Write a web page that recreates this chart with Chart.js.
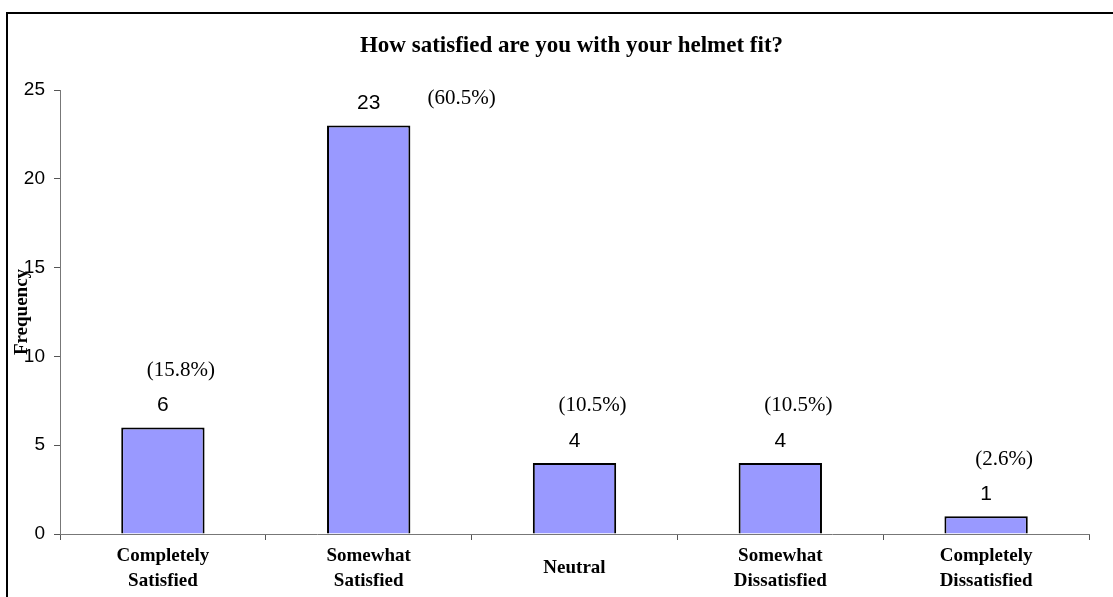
<!DOCTYPE html>
<html>
<head>
<meta charset="utf-8">
<script src="https://cdn.jsdelivr.net/npm/chart.js@4/dist/chart.umd.min.js"></script>
<style>
  html, body { margin: 0; padding: 0; background: #ffffff; }
  #wrap { width: 1113px; height: 597px; position: relative; }
</style>
</head>
<body>
<div id="wrap"><canvas id="c" width="1113" height="597"></canvas></div>
<script>
// ---- data ----
const chartTitle = "How satisfied are you with your helmet fit?";
const yAxisTitle = "Frequency";
const categories = [
  ["Completely", "Satisfied"],
  ["Somewhat", "Satisfied"],
  "Neutral",
  ["Somewhat", "Dissatisfied"],
  ["Completely", "Dissatisfied"]
];
const frequencies = [6, 23, 4, 4, 1];
const percentLabels = ["(15.8%)", "(60.5%)", "(10.5%)", "(10.5%)", "(2.6%)"];
const yMin = 0;
const yMax = 25;
const yStep = 5;

const SERIF = "'Liberation Serif', 'Times New Roman', serif";
const SANS = "'Liberation Sans', Arial, sans-serif";

const frameAndTitle = {
  id: 'frameAndTitle',
  beforeDraw(chart) {
    const ctx = chart.ctx;
    ctx.save();
    ctx.fillStyle = '#ffffff';
    ctx.fillRect(0, 0, chart.width, chart.height);
    ctx.strokeStyle = '#000000';
    ctx.lineWidth = 2;
    ctx.beginPath();
    ctx.moveTo(7, chart.height + 5);
    ctx.lineTo(7, 13);
    ctx.lineTo(chart.width + 5, 13);
    ctx.stroke();
    ctx.restore();
  },
  afterDraw(chart) {
    const ctx = chart.ctx;
    const a = chart.chartArea;
    ctx.save();
    ctx.font = "bold 23px " + SERIF;
    ctx.fillStyle = '#000';
    ctx.textAlign = 'center';
    ctx.textBaseline = 'middle';
    ctx.fillText(chartTitle, (a.left + a.right) / 2 - 3, 46);
    ctx.restore();
  }
};

const barLabels = {
  id: 'barLabels',
  afterDatasetsDraw(chart) {
    const ctx = chart.ctx;
    const meta = chart.getDatasetMeta(0);
    const top = chart.chartArea.top;
    ctx.save();
    ctx.fillStyle = '#000';
    ctx.textAlign = 'center';
    ctx.textBaseline = 'middle';
    meta.data.forEach((bar, i) => {
      ctx.font = "21px " + SANS;
      ctx.fillText(String(frequencies[i]), bar.x, bar.y - 22);
      let px = bar.x + 18;
      let py = bar.y - 57;
      if (py - 12 < top) {
        px = bar.x + 93;
        py = bar.y - 27;
      }
      ctx.font = "21px " + SERIF;
      ctx.fillText(percentLabels[i], px, py);
    });
    ctx.restore();
  }
};

new Chart(document.getElementById('c'), {
  type: 'bar',
  data: {
    labels: categories,
    datasets: [{
      data: frequencies,
      backgroundColor: '#9999FF',
      borderColor: '#000000',
      borderWidth: 2,
      borderSkipped: 'bottom',
      barPercentage: 0.405,
      categoryPercentage: 1.0
    }]
  },
  options: {
    responsive: false,
    animation: false,
    devicePixelRatio: 1,
    layout: { padding: { left: 0, right: 24, top: 90, bottom: 0 } },
    plugins: {
      legend: { display: false },
      title: { display: false },
      tooltip: { enabled: false }
    },
    scales: {
      x: {
        offset: true,
        grid: {
          offset: true,
          drawOnChartArea: false,
          drawTicks: true,
          tickLength: 6,
          tickColor: '#555555'
        },
        border: { display: true, color: '#777777', width: 1 },
        ticks: {
          color: '#000',
          font: { family: SERIF, size: 19, weight: 'bold', lineHeight: 1.32 },
          padding: 16,
          maxRotation: 0,
          minRotation: 0,
          autoSkip: false,
          crossAlign: 'center'
        },
        afterFit(scale) { scale.height = 63; }
      },
      y: {
        min: yMin,
        max: yMax,
        grid: {
          drawOnChartArea: false,
          drawTicks: true,
          tickLength: 6,
          tickColor: '#555555'
        },
        border: { display: true, color: '#777777', width: 1 },
        ticks: {
          stepSize: yStep,
          color: '#000',
          font: { family: SANS, size: 19 },
          padding: 9
        },
        title: {
          display: true,
          text: yAxisTitle,
          color: '#000',
          font: { family: SERIF, size: 19, weight: 'bold' },
          padding: { top: 11, bottom: 0 }
        },
        afterFit(scale) { scale.width = 60; }
      }
    }
  },
  plugins: [frameAndTitle, barLabels]
});
</script>
</body>
</html>
